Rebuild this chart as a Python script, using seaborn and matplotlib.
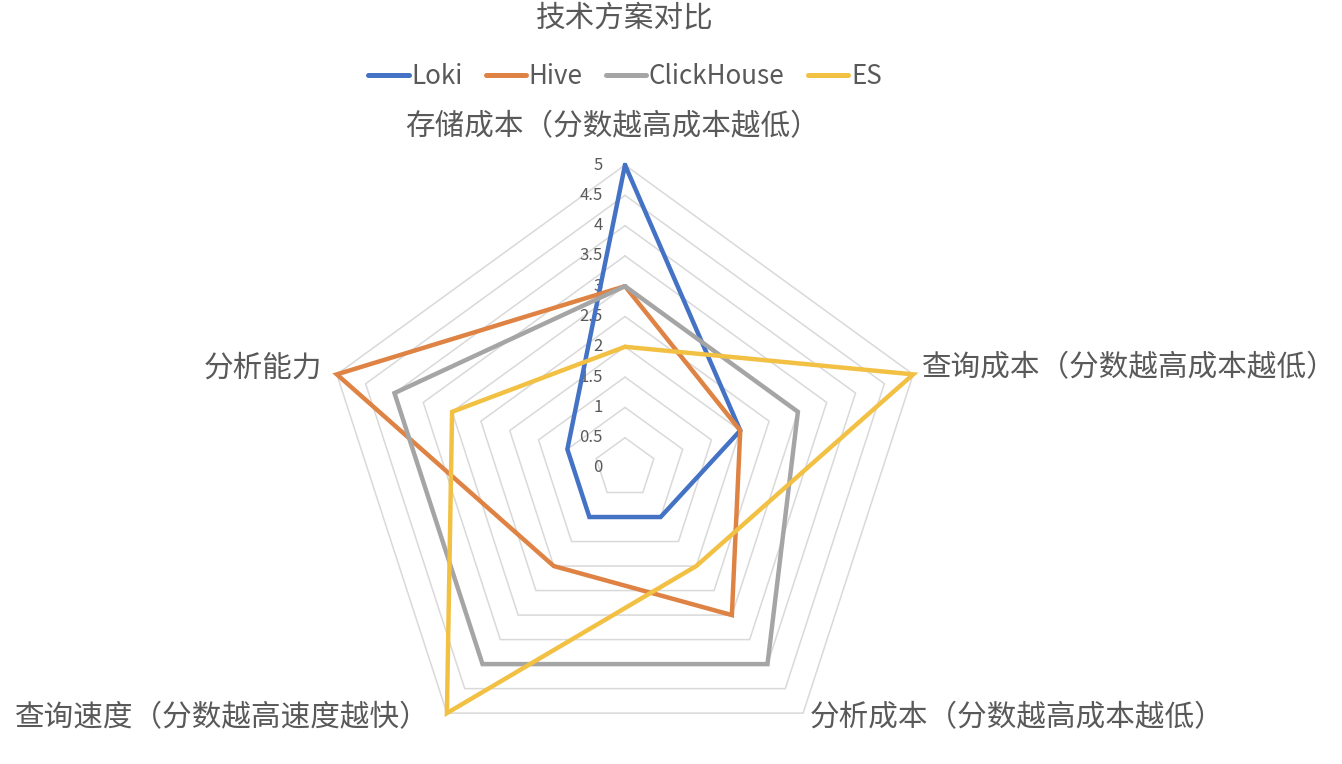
import numpy as np
import pandas as pd
import seaborn as sns
import matplotlib
matplotlib.use('Agg')
import matplotlib.pyplot as plt

# data
categories = ['存储成本（分数越高成本越低）', '查询成本（分数越高成本越低）',
              '分析成本（分数越高成本越低）', '查询速度（分数越高速度越快）', '分析能力']
loki = [5, 2, 1, 1, 1]
hive = [3, 2, 3, 2, 5]
clickhouse = [3, 3, 4, 4, 4]
es = [2, 5, 2, 5, 3]
series_names = ['Loki', 'Hive', 'ClickHouse', 'ES']
radial_ticks = [0, 0.5, 1, 1.5, 2, 2.5, 3, 3.5, 4, 4.5, 5]

colors = ['#4472C4', '#DE8344', '#A5A5A5', '#F2C144']

sns.set_style('white')
plt.rcParams['font.family'] = ['Noto Sans CJK SC', 'DejaVu Sans']

n = len(categories)
angles = np.arange(n) * 2 * np.pi / n

rows = []
for name, vals in zip(series_names, [loki, hive, clickhouse, es]):
    for i in range(n + 1):
        rows.append({'series': name, 'theta': angles[i % n] if i < n else 2 * np.pi,
                     'value': vals[i % n], 'order': i})
df = pd.DataFrame(rows)

fig = plt.figure(figsize=(13.42, 7.64), dpi=100)
W, H = 1342, 764
cx, cy, R = 625, 468, 303
ax = fig.add_axes([(cx - R) / W, (H - cy - R) / H, 2 * R / W, 2 * R / H], projection='polar')
ax.set_theta_offset(np.pi / 2)
ax.set_theta_direction(-1)
ax.set_ylim(0, 5)
ax.grid(False)
ax.spines['polar'].set_visible(False)
ax.set_xticks([])
ax.set_yticks([])
ax.patch.set_alpha(0)

# pentagon grid rings
ring_theta = np.append(angles, 2 * np.pi)
for r in radial_ticks[1:]:
    ax.plot(ring_theta, [r] * (n + 1), color='#d9d9d9', lw=1.1, zorder=1, clip_on=False)

sns.lineplot(data=df, x='theta', y='value', hue='series', hue_order=series_names,
             palette=colors, sort=False, units='series', estimator=None,
             lw=3.2, ax=ax, legend=False, zorder=3)
for line in ax.lines:
    line.set_clip_on(False)
    line.set_solid_joinstyle('miter')

# radial tick labels next to the top axis
for r in radial_ticks:
    ax.annotate(f'{r:g}', xy=(0, r), xytext=(-16, 0), textcoords='offset points',
                ha='right', va='center', fontsize=12, color='#595959',
                annotation_clip=False, zorder=2)

# category labels
lab_kw = dict(fontsize=21.3, color='#595959', va='center')
fig.text(612 / W, 1 - 127 / H, categories[0], ha='center', **lab_kw)
fig.text(922 / W, 1 - 368 / H, categories[1], ha='left', **lab_kw)
fig.text(810 / W, 1 - 718 / H, categories[2], ha='left', **lab_kw)
fig.text(430 / W, 1 - 718 / H, categories[3], ha='right', **lab_kw)
fig.text(322 / W, 1 - 368 / H, categories[4], ha='right', **lab_kw)

fig.text(625 / W, 1 - 18 / H, '技术方案对比', ha='center', va='center',
         fontsize=21.3, color='#595959')

handles = [plt.Line2D([], [], color=c, lw=3.6) for c in colors]
fig.legend(handles, series_names, loc='center', bbox_to_anchor=(625 / W, 1 - 77 / H),
           ncol=4, frameon=False, fontsize=18.7, handlelength=1.55, handletextpad=0.1,
           columnspacing=0.9, labelcolor='#595959')

fig.savefig('out.png', dpi=100)
